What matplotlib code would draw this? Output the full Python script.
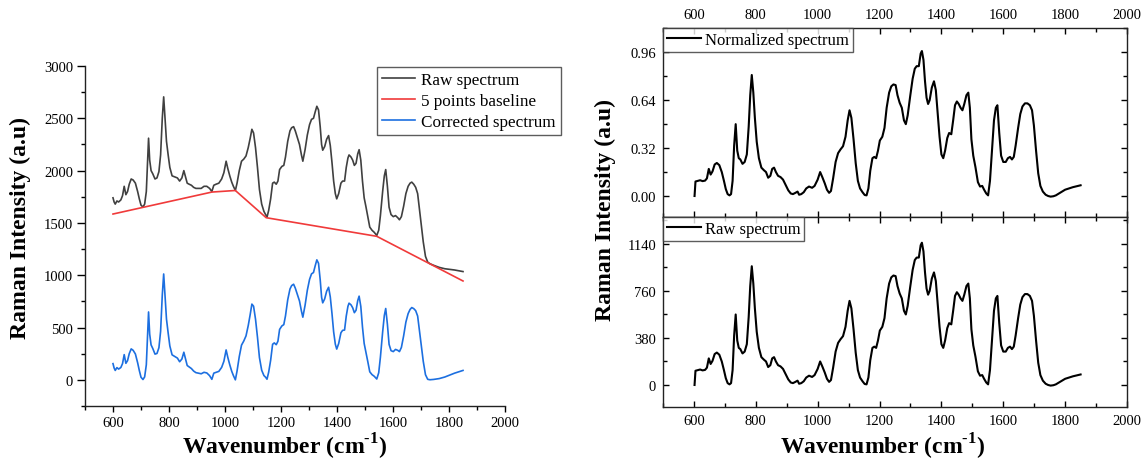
import matplotlib
matplotlib.use("Agg")
import numpy as np
import matplotlib.pyplot as plt
from matplotlib.ticker import MultipleLocator, FormatStrFormatter

plt.rcParams['font.family'] = ['Liberation Serif', 'DejaVu Serif']
plt.rcParams['mathtext.fontset'] = 'custom'
plt.rcParams['mathtext.rm'] = 'Liberation Serif'
plt.rcParams['mathtext.bf'] = 'Liberation Serif:bold'

# ---- left panel: raw spectrum, 5 points baseline, corrected spectrum ----
wn = [600, 604, 608, 614, 620, 628, 634, 640, 646, 652,
      658, 665, 672, 680, 688, 694, 700, 707, 713, 719,
      723, 727, 731, 736, 742, 750, 757, 764, 770, 776,
      781, 786, 791, 797, 803, 811, 820, 830, 838, 846,
      853, 859, 865, 872, 880, 888, 896, 905, 915, 925,
      935, 945, 953, 960, 968, 978, 988, 996, 1004, 1010,
      1017, 1024, 1030, 1037, 1043, 1051, 1059, 1067, 1075, 1083,
      1090, 1096, 1102, 1109, 1116, 1123, 1131, 1139, 1145, 1150,
      1156, 1163, 1170, 1176, 1183, 1189, 1195, 1203, 1210, 1216,
      1224, 1232, 1238, 1245, 1251, 1258, 1266, 1273, 1278, 1286,
      1294, 1302, 1309, 1316, 1322, 1328, 1334, 1340, 1345, 1349,
      1356, 1363, 1370, 1376, 1382, 1388, 1394, 1399, 1406, 1414,
      1420, 1427, 1433, 1439, 1443, 1450, 1456, 1462, 1468, 1474,
      1479, 1485, 1491, 1497, 1503, 1510, 1517, 1525, 1533, 1542,
      1549, 1555, 1563, 1569, 1574, 1580, 1586, 1593, 1601, 1609,
      1617, 1623, 1630, 1638, 1646, 1654, 1661, 1667, 1674, 1681,
      1688, 1694, 1701, 1708, 1716, 1724, 1732, 1745, 1765, 1785,
      1805, 1820, 1835, 1845, 1850]

raw = [1740, 1700, 1680, 1710, 1700, 1720, 1760, 1850, 1770, 1800,
       1870, 1920, 1910, 1880, 1800, 1730, 1670, 1652, 1680, 1800,
       2050, 2310, 2100, 2000, 1970, 1920, 1930, 1990, 2150, 2500,
       2705, 2500, 2280, 2150, 2030, 1950, 1940, 1930, 1900, 1930,
       2000, 1940, 1880, 1870, 1860, 1840, 1830, 1830, 1830, 1850,
       1850, 1830, 1800, 1860, 1870, 1880, 1920, 1980, 2090, 2020,
       1950, 1890, 1850, 1810, 1880, 2000, 2090, 2110, 2140, 2220,
       2310, 2395, 2360, 2220, 2030, 1820, 1680, 1610, 1580, 1555,
       1620, 1730, 1880, 1890, 1870, 1900, 2010, 2040, 2050, 2130,
       2280, 2380, 2410, 2420, 2380, 2320, 2250, 2150, 2090, 2200,
       2340, 2440, 2490, 2500, 2560, 2615, 2580, 2420, 2250, 2195,
       2230, 2300, 2335, 2240, 2080, 1900, 1780, 1730, 1780, 1880,
       1900, 1900, 2030, 2120, 2150, 2130, 2100, 2050, 2070, 2160,
       2200, 2100, 1900, 1740, 1660, 1560, 1460, 1430, 1410, 1380,
       1430, 1570, 1800, 1950, 2010, 1850, 1650, 1580, 1560, 1570,
       1550, 1530, 1560, 1660, 1780, 1850, 1880, 1890, 1870, 1840,
       1780, 1640, 1480, 1320, 1180, 1125, 1110, 1095, 1075, 1062,
       1055, 1050, 1042, 1037, 1035]

corrected = [155, 113, 90, 117, 103, 118, 155, 241, 158, 184,
             250, 296, 282, 247, 163, 89, 25, 3, 28, 144,
             392, 649, 437, 334, 300, 246, 252, 307, 464, 810,
             1012, 804, 581, 448, 324, 239, 224, 208, 173, 199,
             264, 201, 137, 123, 108, 84, 69, 64, 58, 72,
             66, 40, 5, 64, 72, 81, 119, 177, 286, 215,
             144, 82, 41, 0, 84, 223, 332, 371, 420, 519,
             625, 724, 704, 580, 407, 213, 92, 41, 25, 6,
             74, 187, 340, 353, 336, 369, 482, 515, 528, 611,
             765, 868, 901, 914, 877, 820, 754, 657, 599, 713,
             856, 960, 1013, 1026, 1089, 1147, 1114, 957, 789, 736,
             774, 847, 885, 793, 636, 459, 341, 294, 347, 450,
             473, 476, 609, 702, 733, 717, 689, 642, 665, 757,
             800, 702, 505, 348, 270, 174, 77, 50, 34, 8,
             68, 216, 457, 615, 682, 531, 339, 279, 270, 291,
             282, 270, 310, 421, 552, 633, 673, 691, 681, 661,
             610, 479, 328, 178, 49, 5, 1, 4, 12, 27,
             48, 64, 77, 85, 90]

base_wn = [600, 953, 1037, 1147, 1542, 1850]
base_val = [1585, 1795, 1810, 1550, 1372, 945]

# ---- right panels: raw (corrected) spectrum and its normalized version ----
wn2 = [602, 605, 612, 620, 628, 636, 642, 648, 654, 660,
       667, 674, 682, 690, 697, 703, 709, 715, 720, 725,
       730, 735, 740, 745, 750, 757, 764, 771, 777, 782,
       787, 792, 797, 803, 810, 818, 826, 833, 840, 847,
       853, 859, 865, 872, 880, 888, 896, 905, 913, 920,
       928, 935, 940, 947, 955, 963, 972, 982, 990, 1000,
       1008, 1015, 1023, 1030, 1037, 1043, 1050, 1058, 1066, 1074,
       1082, 1090, 1097, 1103, 1109, 1116, 1123, 1130, 1137, 1145,
       1152, 1158, 1164, 1170, 1177, 1183, 1189, 1195, 1201, 1209,
       1216, 1223, 1231, 1238, 1245, 1252, 1258, 1265, 1272, 1279,
       1285, 1291, 1299, 1307, 1314, 1320, 1327, 1333, 1337, 1342,
       1347, 1352, 1357, 1362, 1369, 1376, 1382, 1388, 1394, 1400,
       1406, 1412, 1419, 1425, 1432, 1438, 1444, 1450, 1456, 1462,
       1468, 1474, 1481, 1487, 1492, 1497, 1503, 1510, 1518, 1525,
       1532, 1538, 1545, 1551, 1557, 1564, 1570, 1576, 1581, 1587,
       1593, 1600, 1608, 1615, 1622, 1628, 1634, 1640, 1648, 1655,
       1662, 1670, 1678, 1686, 1693, 1699, 1706, 1713, 1720, 1728,
       1737, 1745, 1753, 1762, 1770, 1780, 1790, 1800, 1812, 1825,
       1838, 1850]

raw2 = [0, 115, 120, 125, 118, 122, 140, 215, 170, 195,
        250, 262, 245, 190, 120, 55, 15, 5, 15, 120,
        400, 570, 360, 300, 290, 255, 270, 330, 550, 800,
        960, 820, 620, 430, 300, 225, 205, 190, 145, 160,
        215, 225, 190, 160, 150, 130, 90, 45, 20, 15,
        25, 35, 10, 15, 30, 60, 75, 65, 80, 130,
        190, 150, 100, 50, 25, 40, 140, 270, 340, 370,
        395, 470, 600, 680, 620, 450, 260, 120, 60, 30,
        8, 5, 60, 200, 300, 310, 300, 360, 440, 470,
        540, 700, 820, 870, 885, 880, 800, 740, 700, 600,
        570, 640, 790, 930, 1010, 1030, 1030, 1130, 1150, 1080,
        910, 780, 730, 760, 860, 910, 840, 650, 470, 330,
        300, 360, 460, 500, 490, 600, 720, 750, 730, 700,
        680, 730, 800, 820, 700, 450, 320, 230, 110, 75,
        80, 50, 20, 5, 120, 380, 600, 700, 720, 500,
        320, 270, 270, 300, 310, 290, 310, 400, 540, 650,
        710, 735, 735, 720, 680, 560, 360, 180, 80, 35,
        10, 0, -5, -2, 5, 20, 35, 50, 60, 70,
        78, 85]

norm_max = 1190

W, H = 1142, 464
fig = plt.figure(figsize=(W / 100, H / 100), dpi=100)

TICK_FS = 10.5
LAB_FS = 17
XLABEL = 'Wavenumber (cm$^{\\mathbf{\u2010}\\mathbf{1}}$)'

# ---------------- left panel ----------------
ax = fig.add_axes([85 / W, 1 - 407 / H, 420 / W, 340 / H])
ax.plot(wn, raw, color='#404040', lw=1.2, label='Raw spectrum')
ax.plot(base_wn, base_val, color='#f03a3a', lw=1.2, label='5 points baseline')
ax.plot(wn, corrected, color='#1c6fe0', lw=1.2, label='Corrected spectrum')
ax.set_xlim(500, 2000)
ax.set_ylim(-250, 3000)
ax.xaxis.set_major_locator(MultipleLocator(200))
ax.xaxis.set_minor_locator(MultipleLocator(100))
ax.yaxis.set_major_locator(MultipleLocator(500))
ax.yaxis.set_minor_locator(MultipleLocator(250))
ax.spines['top'].set_visible(False)
ax.spines['right'].set_visible(False)
for s in ['left', 'bottom']:
    ax.spines[s].set_linewidth(1.0)
    ax.spines[s].set_color('#222222')
ax.tick_params(axis='y', which='major', direction='out', length=5.5, width=1, labelsize=TICK_FS, pad=3)
ax.tick_params(axis='y', which='minor', direction='out', length=3, width=1)
ax.tick_params(axis='x', which='major', direction='out', length=4, width=1, labelsize=TICK_FS, pad=3)
ax.tick_params(axis='x', which='minor', direction='out', length=3, width=1)
leg = ax.legend(loc='upper left', bbox_to_anchor=(377 / W, 1 - 68 / H),
                bbox_transform=fig.transFigure, fontsize=12.3, frameon=True,
                fancybox=False, edgecolor='#333333', borderaxespad=0,
                borderpad=0.3, labelspacing=0.28, handlelength=1.9,
                handletextpad=0.4)
leg.get_frame().set_linewidth(1.0)
fig.text(20 / W, 1 - 228 / H, 'Raman Intensity (a.u)', rotation=90,
         ha='center', va='center', fontsize=LAB_FS, fontweight='bold')
fig.text(285 / W, 1 - 447 / H, XLABEL,
         ha='center', va='center', fontsize=LAB_FS, fontweight='bold')

# ---------------- right panels ----------------
ax_top = fig.add_axes([663 / W, 1 - 218 / H, 464 / W, 189 / H])
ax_bot = fig.add_axes([663 / W, 1 - 408 / H, 464 / W, 190 / H])

ax_top.plot(wn2, np.array(raw2) / norm_max, color='black', lw=1.5,
            label='Normalized spectrum')
ax_bot.plot(wn2, raw2, color='black', lw=1.5, label='Raw spectrum')

for a in (ax_top, ax_bot):
    a.set_xlim(500, 2000)
    a.xaxis.set_major_locator(MultipleLocator(200))
    a.xaxis.set_minor_locator(MultipleLocator(100))
    for s in a.spines.values():
        s.set_linewidth(1.0)
        s.set_color('#222222')
    a.tick_params(which='both', direction='in', width=1, labelsize=TICK_FS,
                  left=True, right=True, top=True, bottom=True)
    a.tick_params(which='major', length=4, pad=5)
    a.tick_params(which='minor', length=3)
    lg = a.legend(loc='upper left', fontsize=12, frameon=True, fancybox=False,
                  edgecolor='#333333', borderaxespad=0, borderpad=0.25,
                  handlelength=2.0, handletextpad=0.25)
    lg.get_frame().set_linewidth(1.0)

ax_top.set_ylim(-0.14, 1.12)
ax_top.yaxis.set_major_locator(MultipleLocator(0.32))
ax_top.yaxis.set_minor_locator(MultipleLocator(0.16))
ax_top.yaxis.set_major_formatter(FormatStrFormatter('%.2f'))
ax_top.tick_params(labeltop=True, labelbottom=False)

ax_bot.set_ylim(-178, 1358)
ax_bot.yaxis.set_major_locator(MultipleLocator(380))
ax_bot.yaxis.set_minor_locator(MultipleLocator(190))
ax_bot.tick_params(labeltop=False, labelbottom=True)

fig.text(605 / W, 1 - 210 / H, 'Raman Intensity (a.u)', rotation=90,
         ha='center', va='center', fontsize=LAB_FS, fontweight='bold')
fig.text(883 / W, 1 - 447 / H, XLABEL,
         ha='center', va='center', fontsize=LAB_FS, fontweight='bold')

fig.savefig('out.png', dpi=100)
